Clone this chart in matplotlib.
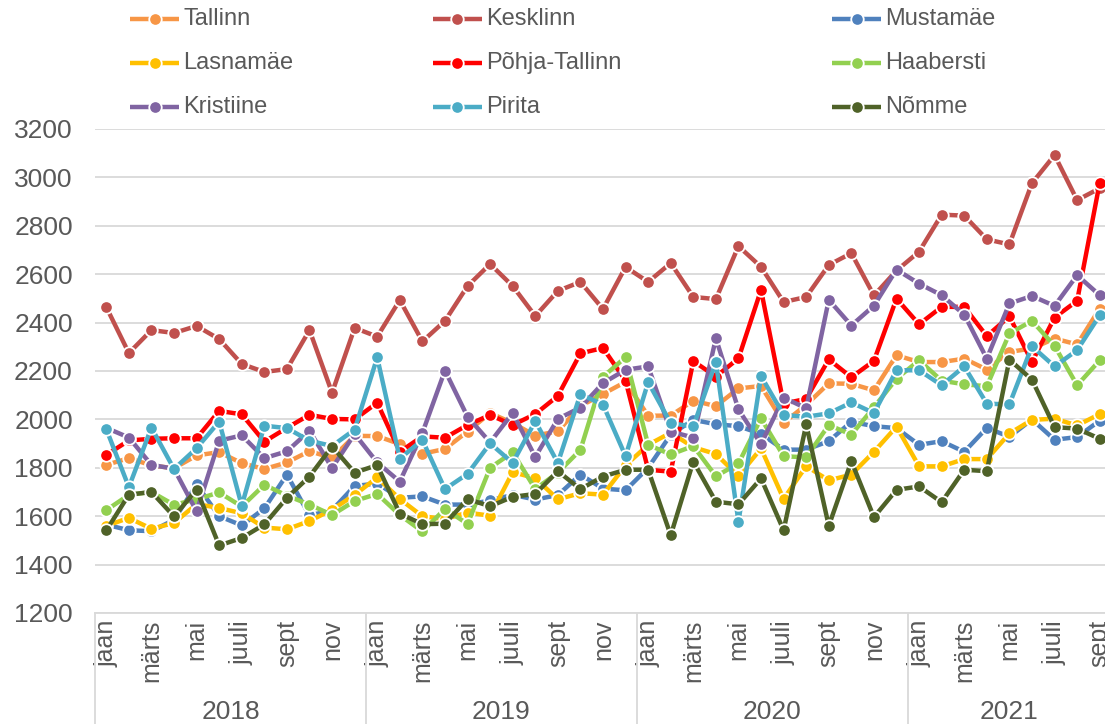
import matplotlib
matplotlib.use('Agg')
import matplotlib.pyplot as plt
from matplotlib.lines import Line2D

plt.rcParams['font.family'] = ['Liberation Sans', 'DejaVu Sans']

month_names = ['jaan', 'veebr', 'märts', 'apr', 'mai', 'juuni',
               'juuli', 'aug', 'sept', 'okt', 'nov', 'dets']
years = ['2018', '2019', '2020', '2021']
months_per_year = [12, 12, 12, 9]

series_names = ['Tallinn', 'Kesklinn', 'Mustamäe', 'Lasnamäe', 'Põhja-Tallinn',
                'Haabersti', 'Kristiine', 'Pirita', 'Nõmme']
colors = ['#F79646', '#C0504D', '#4F81BD', '#FFC000', '#FF0000',
          '#92D050', '#8064A2', '#4BACC6', '#4F6228']

tallinn = [1812, 1840, 1810, 1798, 1851, 1865, 1819, 1795, 1822, 1869, 1840, 1932,
           1931, 1898, 1858, 1878, 1950, 2026, 1985, 1933, 1951, 2055, 2105, 2155,
           2015, 2016, 2077, 2055, 2128, 2138, 1986, 2060, 2149, 2147, 2120, 2265,
           2237, 2237, 2251, 2206, 2279, 2293, 2334, 2310, 2458]
kesklinn = [2464, 2274, 2369, 2357, 2386, 2332, 2229, 2196, 2208, 2369, 2110, 2378,
            2342, 2493, 2322, 2407, 2551, 2642, 2551, 2427, 2531, 2568, 2456, 2630,
            2568, 2646, 2506, 2497, 2716, 2630, 2485, 2506, 2638, 2687, 2512, 2615,
            2693, 2846, 2842, 2744, 2723, 2976, 3092, 2906, 2955]
mustamae = [1565, 1542, 1538, 1585, 1731, 1600, 1562, 1632, 1772, 1603, 1625, 1725,
            1735, 1676, 1682, 1648, 1648, 1665, 1688, 1669, 1687, 1772, 1714, 1707,
            1800, 1937, 1998, 1980, 1972, 1940, 1875, 1875, 1910, 1990, 1972, 1964,
            1895, 1910, 1866, 1965, 1928, 2000, 1916, 1927, 1995]
lasnamae = [1560, 1593, 1548, 1572, 1650, 1634, 1612, 1553, 1546, 1580, 1627, 1688,
            1760, 1671, 1600, 1588, 1615, 1602, 1782, 1757, 1670, 1695, 1689, 1810,
            1895, 1945, 1885, 1857, 1766, 1880, 1671, 1807, 1748, 1772, 1866, 1970,
            1806, 1806, 1836, 1836, 1942, 1998, 2003, 1975, 2022]
pohja = [1853, 1913, 1920, 1922, 1922, 2035, 2021, 1908, 1965, 2019, 2002, 2000,
         2069, 1866, 1930, 1924, 1977, 2018, 1977, 2022, 2097, 2273, 2295, 2160,
         1792, 1784, 2241, 2177, 2252, 2535, 2065, 2085, 2248, 2174, 2242, 2499,
         2393, 2465, 2465, 2344, 2426, 2237, 2421, 2490, 2978]
haabersti = [1625, 1688, 1700, 1647, 1670, 1698, 1640, 1730, 1685, 1648, 1605, 1663,
             1692, 1605, 1537, 1630, 1568, 1800, 1864, 1712, 1780, 1874, 2176, 2257,
             1895, 1855, 1890, 1765, 1818, 2004, 1848, 1843, 1977, 1937, 2050, 2168,
             2244, 2160, 2145, 2137, 2355, 2407, 2304, 2141, 2244]
kristiine = [1965, 1925, 1812, 1796, 1620, 1912, 1934, 1840, 1868, 1953, 1799, 1940,
             1822, 1743, 1944, 2202, 2011, 1905, 2027, 1845, 2002, 2049, 2150, 2205,
             2219, 1950, 1925, 2335, 2041, 1898, 2090, 2046, 2494, 2388, 2470, 2619,
             2561, 2513, 2433, 2251, 2479, 2510, 2469, 2596, 2513]
pirita = [1960, 1720, 1966, 1795, 1881, 1991, 1643, 1974, 1964, 1912, 1890, 1958,
          2256, 1838, 1915, 1712, 1775, 1901, 1820, 1993, 1820, 2104, 2061, 1848,
          2154, 1984, 1971, 2237, 1577, 2179, 2018, 2011, 2025, 2070, 2026, 2203,
          2203, 2141, 2219, 2065, 2062, 2302, 2219, 2286, 2430]
nomme = [1541, 1689, 1700, 1599, 1710, 1479, 1510, 1566, 1676, 1764, 1888, 1780,
         1811, 1611, 1567, 1569, 1671, 1641, 1680, 1692, 1786, 1712, 1764, 1792,
         1792, 1521, 1826, 1660, 1649, 1756, 1542, 1979, 1560, 1827, 1596, 1709,
         1723, 1658, 1792, 1786, 2247, 2164, 1968, 1962, 1920]

data = [tallinn, kesklinn, mustamae, lasnamae, pohja, haabersti, kristiine, pirita, nomme]

W, H = 1105, 724
fig = plt.figure(figsize=(W / 100, H / 100), dpi=100)
ax = fig.add_axes([95 / W, (H - 613) / H, 1016 / W, 484 / H])

text_color = '#595959'
grid_color = '#D9D9D9'

# category labels
cat_labels = []
for y, n in zip(years, months_per_year):
    cat_labels += month_names[:n]
x = list(range(len(cat_labels)))

for k, (vals, c) in enumerate(zip(data, colors)):
    ax.plot(x, vals, color=c, lw=3.2, marker='o', ms=9, mfc=c, mec='white',
            mew=1.3, solid_joinstyle='round', solid_capstyle='round',
            zorder=3 + k, clip_on=False)

ax.set_xlim(-0.5, len(x) - 0.5)
ax.set_ylim(1200, 3200)
ax.set_yticks(range(1200, 3201, 200))
ax.grid(axis='y', color=grid_color, lw=1.3)
ax.set_axisbelow(True)
for s in ['top', 'right', 'left']:
    ax.spines[s].set_visible(False)
ax.spines['bottom'].set_color(grid_color)
ax.spines['bottom'].set_linewidth(1.3)
ax.tick_params(axis='y', length=0, pad=16, labelsize=19, labelcolor=text_color)

tick_pos = x[::2]
ax.set_xticks(tick_pos)
ax.set_xticklabels([cat_labels[i] for i in tick_pos], rotation=90)
ax.tick_params(axis='x', length=0, pad=5, labelsize=18, labelcolor=text_color)

# year labels and separators
xt = ax.get_xaxis_transform()
start = 0
for y, n in zip(years, months_per_year):
    ax.plot([start - 0.5, start - 0.5], [0, -0.25], transform=xt, color=grid_color,
            lw=1.3, clip_on=False)
    ax.text(start + (n - 1) / 2, -0.2045, y, transform=xt, ha='center', va='center',
            fontsize=19, color=text_color)
    start += n

# legend (3 columns x 3 rows)
col_x = [130, 433, 832]
row_y = [19, 63, 107]
for k, (name, c) in enumerate(zip(series_names, colors)):
    r, cc = divmod(k, 3)
    x0 = col_x[cc]
    yy = 1 - row_y[r] / H
    fig.add_artist(Line2D([x0 / W, (x0 + 49) / W], [yy, yy], transform=fig.transFigure,
                          color=c, lw=3.2, solid_capstyle='butt'))
    fig.add_artist(Line2D([(x0 + 24.5) / W], [yy], transform=fig.transFigure,
                          color=c, marker='o', ms=9, mec='white', mew=1.3, lw=0))
    fig.text((x0 + 53) / W, yy, name, ha='left', va='center', fontsize=17,
             color=text_color)

fig.savefig('out.png', dpi=100)
